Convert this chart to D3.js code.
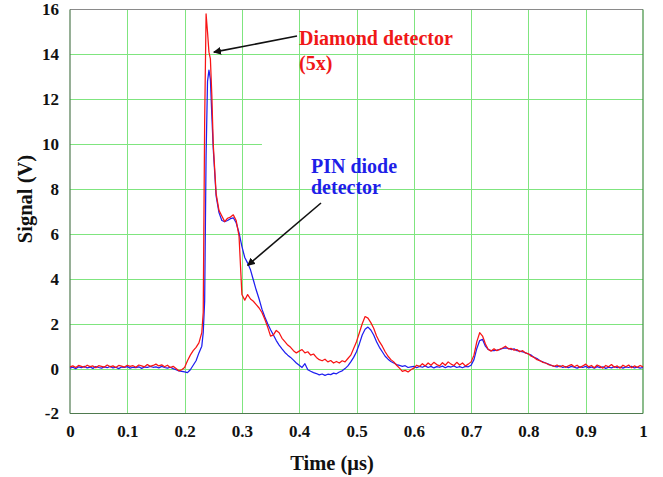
<!DOCTYPE html>
<html><head><meta charset="utf-8">
<script src="https://cdn.jsdelivr.net/npm/d3@7"></script>
<style>
html,body{margin:0;padding:0;background:#fff;}
text{font-family:"Liberation Serif","Times New Roman",serif;font-weight:bold;}
</style></head>
<body><svg id="chart" width="663" height="477"></svg>
<script>
// ---- data ----
const xTicks = [0,0.1,0.2,0.3,0.4,0.5,0.6,0.7,0.8,0.9,1];
const xTickLabels = ["0","0.1","0.2","0.3","0.4","0.5","0.6","0.7","0.8","0.9","1"];
const yTicks = [-2,0,2,4,6,8,10,12,14,16];
const yTickLabels = ["-2","0","2","4","6","8","10","12","14","16"];

const timeUs = [
 0,0.005,0.01,0.015,0.02,0.025,0.03,0.035,0.04,0.045,
 0.05,0.055,0.06,0.065,0.07,0.075,0.08,0.085,0.09,0.095,
 0.1,0.105,0.11,0.115,0.12,0.125,0.13,0.135,0.14,0.145,
 0.15,0.155,0.16,0.165,0.17,0.175,0.18,
 0.185,0.19,0.195,0.2,0.205,0.21,0.215,0.22,0.225,
 0.23,0.2325,0.235,0.2375,0.24,0.2425,0.245,0.2475,0.25,
 0.255,0.26,0.265,0.27,0.275,0.28,0.285,0.29,0.295,0.3,
 0.305,0.31,0.315,0.32,0.325,0.33,0.335,0.34,0.345,0.35,
 0.355,0.36,0.365,0.37,0.375,0.38,0.385,0.39,0.395,0.4,
 0.405,0.41,0.415,0.42,0.425,0.43,0.435,0.44,0.445,0.45,
 0.455,0.46,0.465,0.47,0.475,0.48,0.485,0.49,0.495,0.5,
 0.505,0.51,0.515,0.52,0.525,0.53,0.535,0.54,0.545,0.55,
 0.555,0.56,0.565,0.57,0.575,0.58,0.585,0.59,0.595,0.6,
 0.605,0.61,0.615,0.62,0.625,0.63,0.635,0.64,0.645,0.65,
 0.655,0.66,0.665,0.67,0.675,0.68,0.685,0.69,0.695,0.7,
 0.705,0.71,0.715,0.72,0.725,0.73,0.735,0.74,0.745,0.75,
 0.755,0.76,0.765,0.77,0.775,0.78,0.785,0.79,0.795,0.8,
 0.805,0.81,0.815,0.82,0.825,0.83,0.835,0.84,0.845,0.85,
 0.855,0.86,0.865,0.87,0.875,0.88,0.885,0.89,0.895,0.9,
 0.905,0.91,0.915,0.92,0.925,0.93,0.935,0.94,0.945,0.95,
 0.955,0.96,0.965,0.97,0.975,0.98,0.985,0.99,0.995,1.0
];

const diamond5x = [
 0.08,0.12,0.05,0.14,0.1,0.06,0.15,0.09,0.12,0.04,
 0.13,0.1,0.07,0.16,0.08,0.12,0.05,0.14,0.11,0.07,
 0.15,0.1,0.13,0.06,0.16,0.12,0.08,0.18,0.1,0.14,
 0.2,0.12,0.17,0.08,0.15,0.05,0.1,
 0.0,-0.1,-0.05,0.05,0.35,0.6,0.8,0.95,1.15,
 1.6,2.5,11.0,15.8,15.0,14.1,13.8,12.2,10.0,
 7.8,7.05,6.8,6.55,6.7,6.75,6.85,6.6,5.9,3.3,
 3.05,3.3,3.1,3.0,2.85,2.7,2.5,2.2,1.85,1.45,
 1.5,1.7,1.6,1.35,1.2,1.05,0.95,0.8,0.7,0.78,
 0.85,0.7,0.75,0.6,0.65,0.5,0.4,0.35,0.42,0.3,
 0.36,0.25,0.32,0.25,0.35,0.3,0.45,0.6,0.9,1.2,
 1.6,2.0,2.32,2.25,2.05,1.8,1.45,1.2,1.0,0.75,
 0.55,0.4,0.3,0.15,0.02,-0.12,-0.08,-0.15,-0.05,0.02,
 0.15,0.1,0.22,0.12,0.25,0.15,0.28,0.18,0.12,0.26,
 0.15,0.3,0.2,0.14,0.28,0.16,0.25,0.12,0.2,0.3,
 0.6,1.2,1.6,1.45,1.1,0.85,0.78,0.88,0.8,0.86,
 0.92,1.0,0.88,0.9,0.82,0.85,0.75,0.8,0.7,0.66,
 0.55,0.5,0.4,0.36,0.28,0.25,0.18,0.15,0.1,0.16,
 0.08,0.14,0.06,0.12,0.18,0.08,0.15,0.05,0.12,0.2,
 0.08,0.14,0.04,0.16,0.1,0.02,0.14,0.08,0.18,0.06,
 0.12,0.02,0.15,0.08,0.16,0.04,0.12,0.06,0.14,0.08
];

const pinDiode = [
 0.02,0.06,0.0,0.08,0.04,0.1,0.03,0.07,0.01,0.09,
 0.05,0.02,0.08,0.04,0.1,0.03,0.06,0.0,0.07,0.05,
 0.09,0.02,0.06,0.04,0.08,0.01,0.07,0.05,0.1,0.06,
 0.08,0.03,0.1,0.05,0.02,0.06,0.0,
 -0.05,-0.1,-0.12,-0.15,-0.18,-0.05,0.15,0.35,0.7,
 1.0,1.6,3.0,9.5,12.8,13.3,12.9,11.3,9.8,
 7.7,6.95,6.6,6.55,6.6,6.68,6.72,6.5,6.05,5.45,
 4.95,4.7,4.4,3.95,3.5,3.1,2.65,2.3,2.0,1.73,
 1.5,1.25,1.05,0.88,0.72,0.6,0.5,0.38,0.25,0.15,
 0.05,0.22,-0.05,-0.12,-0.18,-0.22,-0.28,-0.24,-0.3,-0.25,
 -0.27,-0.2,-0.23,-0.15,-0.1,0.0,0.12,0.3,0.5,0.75,
 1.1,1.5,1.75,1.85,1.72,1.5,1.2,0.95,0.75,0.55,
 0.42,0.32,0.25,0.18,0.14,0.1,0.13,0.05,0.08,0.1,
 0.04,0.1,0.06,0.12,0.05,0.1,0.03,0.09,0.06,0.11,
 0.04,0.1,0.07,0.12,0.05,0.09,0.04,0.1,0.08,0.15,
 0.4,0.9,1.25,1.3,1.0,0.85,0.8,0.8,0.82,0.85,
 0.9,0.92,0.9,0.85,0.88,0.8,0.78,0.75,0.7,0.65,
 0.6,0.5,0.45,0.35,0.3,0.25,0.2,0.14,0.1,0.08,
 0.12,0.05,0.09,0.04,0.1,0.06,0.02,0.08,0.05,0.1,
 0.03,0.07,0.02,0.09,0.04,0.08,0.01,0.06,0.03,0.09,
 0.04,0.07,0.02,0.08,0.05,0.1,0.03,0.06,0.02,0.05
];

// ---- drawing ----
const svg = d3.select("#chart");
const L = 70, R = 643, T = 9.5, B = 413.5;
const x = d3.scaleLinear().domain([0,1]).range([L,R]);
const y = d3.scaleLinear().domain([-2,16]).range([B,T]);
const gridCol = "#7fe57f";

// gridlines
const g = svg.append("g");
g.selectAll("line.v").data(xTicks.slice(1,-1)).join("line")
  .attr("x1",d=>Math.round(x(d))+0.5).attr("x2",d=>Math.round(x(d))+0.5)
  .attr("y1",T).attr("y2",B).attr("stroke",gridCol).attr("stroke-width",1);
g.selectAll("line.h").data(yTicks.filter(d=>d>-2 && d<16)).join("line")
  .attr("x1",L).attr("x2",d=> d===10 ? x(0.335) : R)
  .attr("y1",d=>Math.round(y(d))+0.5).attr("y2",d=>Math.round(y(d))+0.5)
  .attr("stroke",gridCol).attr("stroke-width",1);

// frame
svg.append("line").attr("x1",L).attr("x2",R).attr("y1",T).attr("y2",T).attr("stroke","#8a8a8a").attr("stroke-width",1.2);
svg.append("line").attr("x1",L).attr("x2",L).attr("y1",T).attr("y2",B).attr("stroke","#4f7a4f").attr("stroke-width",1.2);
svg.append("line").attr("x1",R).attr("x2",R).attr("y1",T).attr("y2",B).attr("stroke","#3f8f3f").attr("stroke-width",1.2);
svg.append("line").attr("x1",L).attr("x2",R).attr("y1",B).attr("y2",B).attr("stroke","#4f7a4f").attr("stroke-width",1.2);

// axes (labels only)
const ax = d3.axisBottom(x).tickValues(xTicks).tickSize(0).tickFormat((d,i)=>xTickLabels[i]);
const axg = svg.append("g").attr("transform",`translate(0,${B+8})`).call(ax);
axg.select(".domain").remove();
axg.selectAll("text").attr("font-size",17).attr("fill","#111")
  .attr("font-family","Liberation Serif").attr("font-weight","bold");
const ay = d3.axisLeft(y).tickValues(yTicks).tickSize(0).tickFormat((d,i)=>yTickLabels[i]);
const ayg = svg.append("g").attr("transform",`translate(${L-8},0)`).call(ay);
ayg.select(".domain").remove();
ayg.selectAll("text").attr("font-size",17).attr("fill","#111")
  .attr("font-family","Liberation Serif").attr("font-weight","bold");

// titles
svg.append("text").attr("x",332).attr("y",470).attr("text-anchor","middle")
  .attr("font-size",20.5).attr("fill","#111").text("Time (μs)");
svg.append("text").attr("transform","translate(32,199) rotate(-90)").attr("text-anchor","middle")
  .attr("font-size",20.5).attr("fill","#111").text("Signal (V)");

// series
const line = d3.line().x((d,i)=>x(timeUs[i])).y(d=>y(d));
svg.append("path").datum(pinDiode).attr("d",line).attr("fill","none")
  .attr("stroke","#1e1ef0").attr("stroke-width",1.25).attr("stroke-linejoin","round");
svg.append("path").datum(diamond5x).attr("d",line).attr("fill","none")
  .attr("stroke","#f81414").attr("stroke-width",1.25).attr("stroke-linejoin","round");

// annotations
const defs = svg.append("defs");
defs.append("marker").attr("id","ah").attr("viewBox","0 0 10 10").attr("refX",9).attr("refY",5)
  .attr("markerWidth",8).attr("markerHeight",8).attr("markerUnits","userSpaceOnUse").attr("orient","auto")
  .append("path").attr("d","M0,0 L10,5 L0,10 z").attr("fill","#111");
svg.append("line").attr("x1",297).attr("y1",36).attr("x2",x(0.251)).attr("y2",y(14.1))
  .attr("stroke","#111").attr("stroke-width",1.6).attr("marker-end","url(#ah)");
svg.append("line").attr("x1",321).attr("y1",203).attr("x2",x(0.31)).attr("y2",y(4.6))
  .attr("stroke","#111").attr("stroke-width",1.6).attr("marker-end","url(#ah)");

svg.append("text").attr("x",299).attr("y",45).attr("font-size",20).attr("fill","#f01818").text("Diamond detector");
svg.append("text").attr("x",299).attr("y",70).attr("font-size",20).attr("fill","#f01818").text("(5x)");
svg.append("text").attr("x",311).attr("y",173).attr("font-size",20).attr("fill","#1e1ee8").text("PIN diode");
svg.append("text").attr("x",311).attr("y",194).attr("font-size",20).attr("fill","#1e1ee8").text("detector");
</script></body></html>
